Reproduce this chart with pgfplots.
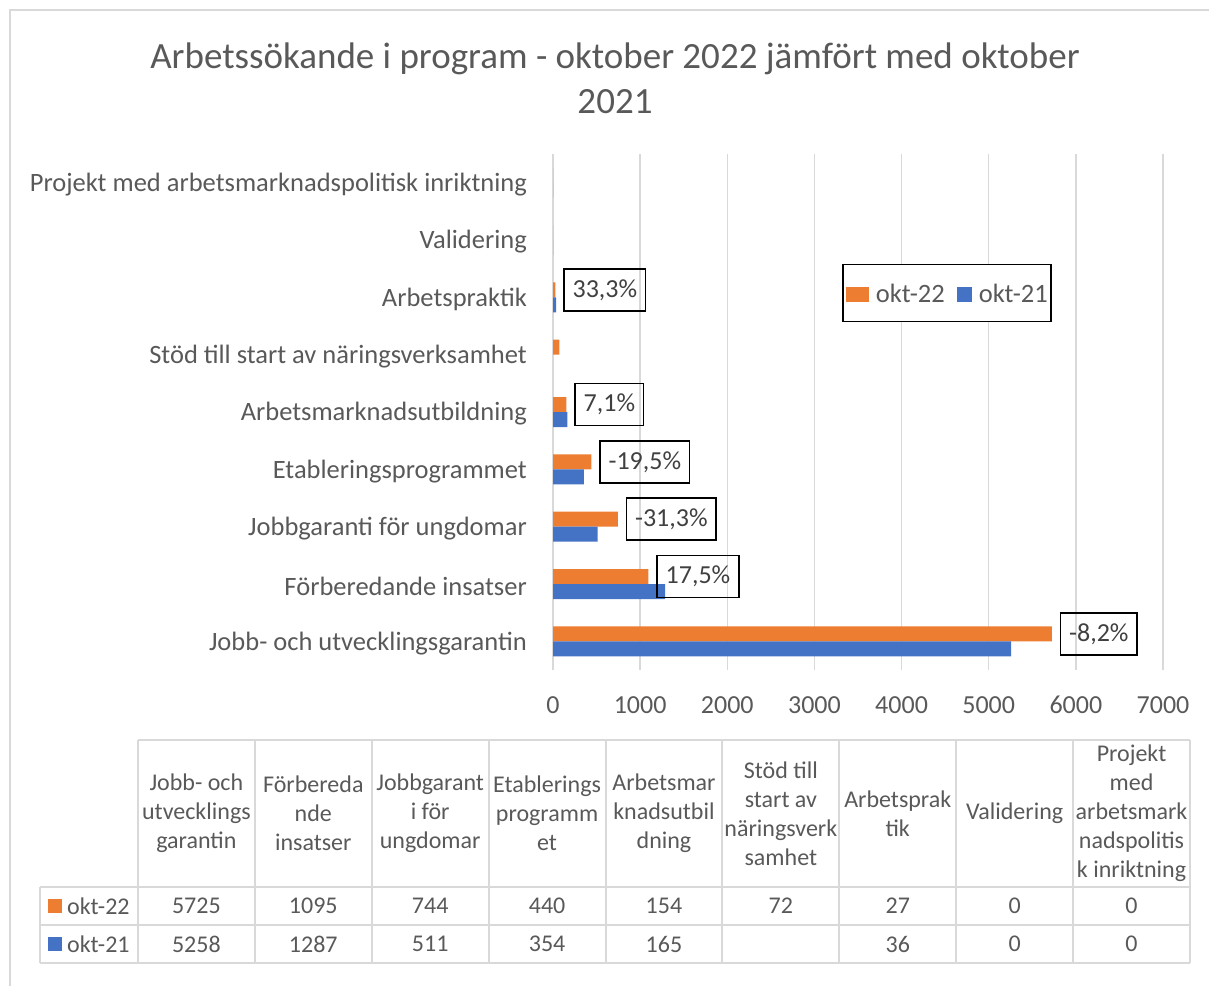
\documentclass[border=0pt]{standalone}
\usepackage{pgfplots}
\pgfplotsset{compat=1.18}
\usepackage{pgfplotstable}
\usepackage{fontspec}
\setmainfont{Carlito}
\definecolor{txt}{HTML}{595959}
\definecolor{grd}{HTML}{D9D9D9}
\definecolor{org}{HTML}{ED7D31}
\definecolor{blu}{HTML}{4472C4}
\definecolor{lbl}{HTML}{404040}
\pgfplotstableread{
y okt22 okt21
0 5725 5258
1 1095 1287
2 744 511
3 440 354
4 154 165
5 72 nan
6 27 36
7 0 0
8 0 0
}\bars
\newcommand{\fs}{\fontsize{24}{29}\selectfont}
\newcommand{\fl}{\fontsize{26.5}{32}\selectfont}
\begin{document}
\begin{tikzpicture}[x=1pt,y=-1pt]
\useasboundingbox (0,0) rectangle (1209,985);
% outer border
\draw[grd, line width=2pt] (10,986) -- (10,10) -- (1210,10);
% title
\node[text=txt, font=\fontsize{37}{45}\selectfont, align=center] at (615,78) {Arbetssökande i program - oktober 2022 jämfört med oktober\\2021};
\begin{axis}[
  at={(553pt,-670pt)}, anchor=south west,
  scale only axis, width=610pt, height=516pt,
  xbar, bar width=15pt,
  xmin=0, xmax=7000, ymin=-0.5, ymax=8.5,
  xtick={0,1000,...,7000},
  ytick={0,...,8},
  yticklabels={Jobb- och utvecklingsgarantin, Förberedande insatser, Jobbgaranti för ungdomar, Etableringsprogrammet, Arbetsmarknadsutbildning, Stöd till start av näringsverksamhet, Arbetspraktik, Validering, Projekt med arbetsmarknadspolitisk inriktning},
  xmajorgrids, grid style={grd, line width=1.5pt},
  axis line style={draw=none},
  major tick length=0pt, tick style={draw=none},
  ticklabel style={font=\fl, text=txt},
  /pgf/number format/assume math mode=true,
  /pgf/number format/1000 sep={},
  scaled x ticks=false,
  xticklabel style={inner sep=0pt, anchor=north, yshift=-26pt, font=\fontsize{26}{31}\selectfont},
  yticklabel style={inner sep=0pt, anchor=east, xshift=-26pt, yshift=-2pt},
  legend style={at={(0.474,0.787)}, anchor=north west, draw=black, line width=1.5pt, font=\fl, text=txt,
    inner xsep=3pt, inner ysep=19.5pt,
    nodes={inner sep=0pt, text depth=0pt, text height=18pt},
    /tikz/every odd column/.append style={column sep=7pt},
    /tikz/every even column/.append style={column sep=12pt}},
  legend columns=2,
]
\addplot[draw=none, fill=org, bar shift=7.5pt,
  legend image code/.code={\path (0pt,-9pt) rectangle (23pt,6pt); \fill[org] (8pt,-9pt) rectangle (23pt,6pt);}]
  table[x=okt22, y=y] {\bars};
\addlegendentry{okt-22}
\addplot[draw=none, fill=blu, bar shift=-7.5pt,
  legend image code/.code={\fill[blu] (0pt,-9pt) rectangle (15pt,6pt);}]
  table[x=okt21, y=y] {\bars};
\addlegendentry{okt-21}
\addplot[draw=none, fill=none, bar shift=7.5pt, forget plot,
  nodes near coords, point meta=explicit symbolic,
  nodes near coords style={anchor=west, draw=black, line width=1.5pt, text=lbl, font=\fontsize{26}{31}\selectfont, inner xsep=8.5pt, inner ysep=0pt, minimum height=42pt, xshift=8pt}]
  coordinates {(5725,0) [-8,2\%] (1095,1) [17,5\%] (744,2) [-31,3\%] (440,3) [-19,5\%] (154,4) [7,1\%] (27,6) [33,3\%]};
\end{axis}
% data table
\begin{scope}[grd, line width=2pt]
\draw (138,740) -- (1190,740);
\foreach \yy in {887,925,963} \draw (40,\yy) -- (1190,\yy);
\draw (40,887) -- (40,963);
\foreach \i in {0,...,9} \draw ({138+\i*116.89},740) -- ({138+\i*116.89},963);
\end{scope}
\begin{scope}[every node/.style={text=txt, font=\fs, align=center, inner sep=0pt}]
\foreach \t [count=\i from 0] in {
  {Jobb- och\\utvecklings\\garantin},
  {Förbereda\\nde\\insatser},
  {Jobbgarant\\i för\\ungdomar},
  {Etablerings\\programm\\et},
  {Arbetsmar\\knadsutbil\\dning},
  {Stöd till\\start av\\näringsverk\\samhet},
  {Arbetsprak\\tik},
  {Validering},
  {Projekt\\med\\arbetsmark\\nadspolitis\\k inriktning}}
  \node at ({196.4+\i*116.89},813.5) {\t};
\foreach \v [count=\i from 0] in {5725,1095,744,440,154,72,27,0,0}
  \node at ({196.4+\i*116.89},906) {\v};
\foreach \v [count=\i from 0] in {5258,1287,511,354,165,{},36,0,0}
  \node at ({196.4+\i*116.89},944) {\v};
\fill[org] (48,899) rectangle (62,913);
\node[anchor=west] at (67,906) {okt-22};
\fill[blu] (48,937) rectangle (62,951);
\node[anchor=west] at (67,944) {okt-21};
\end{scope}
\end{tikzpicture}
\end{document}
